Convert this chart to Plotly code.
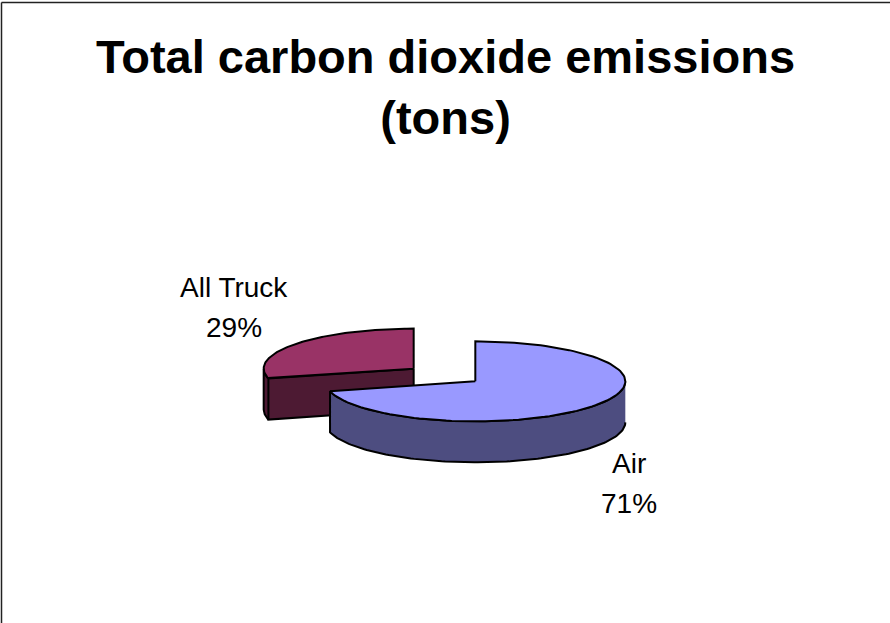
import numpy as np
import plotly.graph_objects as go

# ---- data ----
categories = ["Air", "All Truck"]
values = [71, 29]
top_colors = ["#9999FF", "#993366"]
side_colors = ["#4D4D80", "#4D1A33"]
title_text = "Total carbon dioxide emissions<br>(tons)"

# ---- style / geometry constants (pixels) ----
W, H = 890, 623
CX, CY = 444.5, 375.0      # pie centre
RX, RY = 150.0, 40.0       # ellipse radii of top face
DEPTH = 41.0               # thickness
EXPLODE = 0.26             # explode fraction of radius
LINE = dict(color="black", width=2)
FONT = "Liberation Sans, Arial, sans-serif"
LABEL_SIZE = 28
LABEL_GAP = 40             # baseline-to-baseline of the two label lines
LABEL_KX, LABEL_KY, LABEL_DX = 250.0, 110.0, -13.0

total = float(sum(values))
fracs = [v / total for v in values]
starts = np.concatenate([[0.0], np.cumsum(fracs)[:-1]]) * 360.0
ends = np.cumsum(fracs) * 360.0


def rim(vx, vy, t0, t1, n=120, dy=0.0):
    t = np.radians(np.linspace(t0, t1, n))
    return vx + RX * np.sin(t), vy - RY * np.cos(t) + dy


fig = go.Figure()
slices = []
for i, cat in enumerate(categories):
    t0, t1 = starts[i], ends[i]
    mid = np.radians((t0 + t1) / 2)
    vx = CX + EXPLODE * RX * np.sin(mid)
    vy = CY - EXPLODE * RY * np.cos(mid)
    slices.append((vy, i, t0, t1, mid, vx))

for vy, i, t0, t1, mid, vx in sorted(slices):
    # visible outer side (front half: 90..270 deg)
    a, b = max(t0, 90.0), min(t1, 270.0)
    if b > a:
        xt, yt = rim(vx, vy, a, b)
        xb, yb = rim(vx, vy, a, b, dy=DEPTH)
        fig.add_trace(go.Scatter(
            x=np.concatenate([xt, xb[::-1]]), y=np.concatenate([yt, yb[::-1]]),
            fill="toself", fillcolor=side_colors[i], line=LINE, mode="lines",
            hoverinfo="skip", showlegend=False))
    # visible cut faces
    for ang, vis in ((t0, np.sin(np.radians(t0)) < -1e-9),
                     (t1, np.sin(np.radians(t1)) > 1e-9)):
        if vis:
            rx_, ry_ = rim(vx, vy, ang, ang, n=1)
            fig.add_trace(go.Scatter(
                x=[vx, rx_[0], rx_[0], vx, vx],
                y=[vy, ry_[0], ry_[0] + DEPTH, vy + DEPTH, vy],
                fill="toself", fillcolor=side_colors[i], line=LINE, mode="lines",
                hoverinfo="skip", showlegend=False))
    # top face
    xt, yt = rim(vx, vy, t0, t1)
    fig.add_trace(go.Scatter(
        x=np.concatenate([[vx], xt, [vx]]), y=np.concatenate([[vy], yt, [vy]]),
        fill="toself", fillcolor=top_colors[i], line=LINE, mode="lines",
        name=categories[i], hoverinfo="name", showlegend=False))

# ---- data labels (two lines: category, percentage) ----
for vy, i, t0, t1, mid, vx in slices:
    s, c = np.sin(mid), np.cos(mid)
    lx = CX + LABEL_DX + LABEL_KX * s
    ly = CY - LABEL_KY * c + (DEPTH if c < 0 else 0.0)   # centre between the two lines
    pct = round(100 * values[i] / total)
    for txt, dy in ((categories[i], -LABEL_GAP / 2), (f"{pct}%", LABEL_GAP / 2)):
        fig.add_annotation(
            x=lx, y=ly + dy, xref="x", yref="y", showarrow=False,
            text=txt, xanchor="center", yanchor="middle",
            font=dict(family=FONT, size=LABEL_SIZE, color="black"))

# ---- title ----
fig.add_annotation(
    x=W / 2, y=28, xref="x", yref="y", showarrow=False,
    text=f"<b>{title_text}</b>", xanchor="center", yanchor="top",
    font=dict(family=FONT, size=47, color="black"))

# ---- frame (top and left edges visible) ----
fig.add_shape(type="line", x0=1.5, y0=2.5, x1=W + 10, y1=2.5, xref="x", yref="y",
              line=dict(color="#222222", width=1.5))
fig.add_shape(type="line", x0=1.5, y0=2.5, x1=1.5, y1=H + 10, xref="x", yref="y",
              line=dict(color="#222222", width=1.5))

fig.update_layout(
    width=W, height=H,
    margin=dict(l=0, r=0, t=0, b=0),
    paper_bgcolor="white", plot_bgcolor="white",
    xaxis=dict(range=[0, W], visible=False, fixedrange=True),
    yaxis=dict(range=[H, 0], visible=False, fixedrange=True),
    showlegend=False,
)

fig.write_html("out.html",
               config={"displayModeBar": False, "staticPlot": True},
               post_script="document.body.style.margin='0';document.body.style.overflow='hidden';")
